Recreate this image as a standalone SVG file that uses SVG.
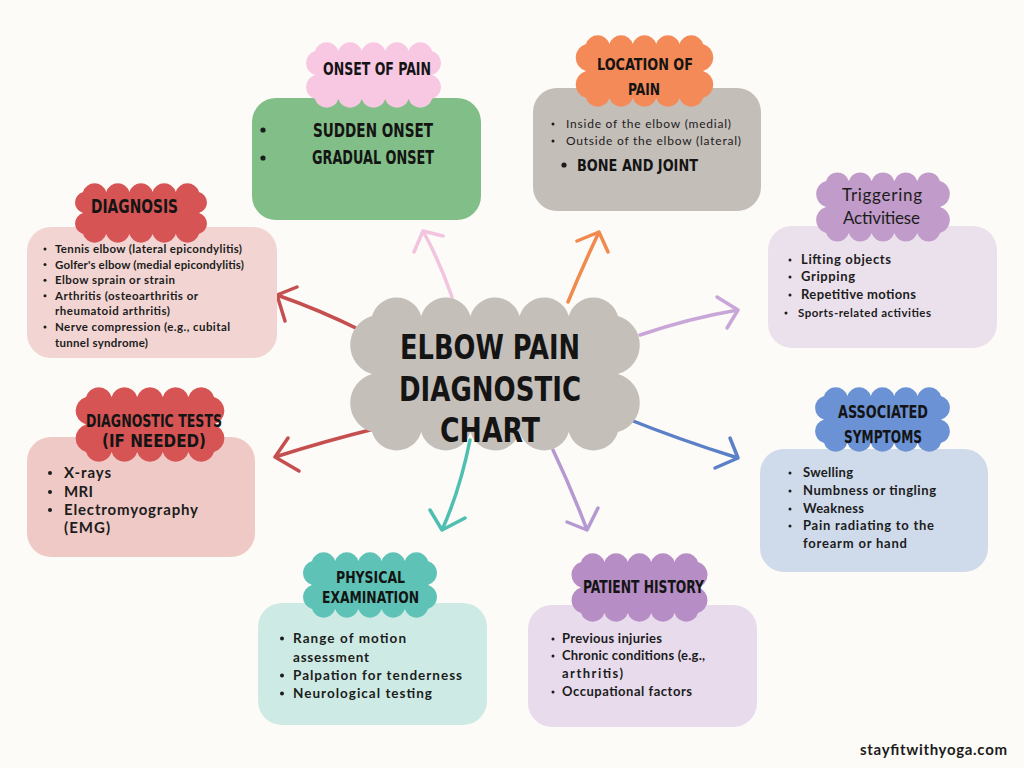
<svg xmlns="http://www.w3.org/2000/svg" width="1024" height="768" viewBox="0 0 1024 768">
<style>
.hd{font-family:"DejaVu Sans Condensed","DejaVu Sans",sans-serif;font-weight:bold;fill:#141414;text-anchor:middle}
.b{font-family:Lato,"Liberation Sans",sans-serif;font-weight:bold;fill:#1c1c1c}
.r{font-family:Lato,"Liberation Sans",sans-serif;font-weight:normal;fill:#1c1c1c}
.dot{fill:#1c1c1c}
.arr{fill:none;stroke-width:3.5;stroke-linecap:round;stroke-linejoin:round}
</style>
<rect width="1024" height="768" fill="#fdfbf7"/>
<g id="connectors">
<path class="arr" stroke="#f3c4df" d="M452,297 Q440,262 423,231 M414,252 L423,231 L443,236"/>
<path class="arr" stroke="#f08a4e" d="M568,302 Q582,268 599,232 M577,241 L599,232 L608,252"/>
<path class="arr" stroke="#c8a6d8" d="M640,335 Q690,318 738,310 M717,297 L738,310 L727,328"/>
<path class="arr" stroke="#c54f4f" d="M362,331 Q320,310 277,295 M297,287 L277,295 L285,321"/>
<path class="arr" stroke="#c54f4f" d="M378,428 Q325,441 275,457 M288,438 L275,457 L299,471"/>
<path class="arr" stroke="#5b80c8" d="M623,417 Q680,440 738,458 M730,438 L738,458 L715,468"/>
<path class="arr" stroke="#4fbfb1" d="M470,440 Q460,490 442,530 M430,510 L442,530 L465,518"/>
<path class="arr" stroke="#b59ad2" d="M553,450 Q572,490 587,530 M567,522 L587,530 L598,508"/>
</g>
<g id="center">
<path fill="#c5bfba" d="M372,316 a25.6,25.6 0 0 1 49.2,0 a25.6,25.6 0 0 1 49.2,0 a25.6,25.6 0 0 1 49.2,0 a25.6,25.6 0 0 1 49.2,0 a25.6,25.6 0 0 1 49.2,0 a30.2,30.2 0 0 1 0,58 a30.2,30.2 0 0 1 0,58 a25.6,25.6 0 0 1 -49.2,0 a25.6,25.6 0 0 1 -49.2,0 a25.6,25.6 0 0 1 -49.2,0 a25.6,25.6 0 0 1 -49.2,0 a25.6,25.6 0 0 1 -49.2,0 a30.2,30.2 0 0 1 0,-58 a30.2,30.2 0 0 1 0,-58 z"/>
<text class="hd" x="490" y="359" font-size="34" textLength="180" lengthAdjust="spacingAndGlyphs">ELBOW PAIN</text>
<text class="hd" x="490" y="401" font-size="34" textLength="182" lengthAdjust="spacingAndGlyphs">DIAGNOSTIC</text>
<text class="hd" x="490" y="442" font-size="34" textLength="100" lengthAdjust="spacingAndGlyphs">CHART</text>
</g>
<g id="onset">
<rect x="252" y="98" width="229" height="122" rx="24" fill="#82be87"/>
<path fill="#f8c8e2" d="M315,51 a12.2,12.2 0 0 1 23.4,0 a12.2,12.2 0 0 1 23.4,0 a12.2,12.2 0 0 1 23.4,0 a12.2,12.2 0 0 1 23.4,0 a12.2,12.2 0 0 1 23.4,0 a12.5,12.5 0 0 1 0,24 a12.5,12.5 0 0 1 0,24 a12.2,12.2 0 0 1 -23.4,0 a12.2,12.2 0 0 1 -23.4,0 a12.2,12.2 0 0 1 -23.4,0 a12.2,12.2 0 0 1 -23.4,0 a12.2,12.2 0 0 1 -23.4,0 a12.5,12.5 0 0 1 0,-24 a12.5,12.5 0 0 1 0,-24 z"/>
<text class="hd" x="377" y="75" font-size="18" textLength="108" lengthAdjust="spacingAndGlyphs">ONSET OF PAIN</text>
<circle class="dot" cx="263" cy="130" r="2.6"/>
<circle class="dot" cx="263" cy="158" r="2.6"/>
<text class="hd" x="373" y="137" font-size="19" textLength="120" lengthAdjust="spacingAndGlyphs">SUDDEN ONSET</text>
<text class="hd" x="373" y="164" font-size="19" textLength="122" lengthAdjust="spacingAndGlyphs">GRADUAL ONSET</text>
</g>
<g id="location">
<rect x="533" y="88" width="228" height="123" rx="24" fill="#c4beb9"/>
<path fill="#f48a57" d="M586,44 a12.2,12.2 0 0 1 23.4,0 a12.2,12.2 0 0 1 23.4,0 a12.2,12.2 0 0 1 23.4,0 a12.2,12.2 0 0 1 23.4,0 a12.2,12.2 0 0 1 23.4,0 a14,14 0 0 1 0,27 a14,14 0 0 1 0,27 a12.2,12.2 0 0 1 -23.4,0 a12.2,12.2 0 0 1 -23.4,0 a12.2,12.2 0 0 1 -23.4,0 a12.2,12.2 0 0 1 -23.4,0 a12.2,12.2 0 0 1 -23.4,0 a14,14 0 0 1 0,-27 a14,14 0 0 1 0,-27 z"/>
<text class="hd" x="645" y="70" font-size="16" textLength="96" lengthAdjust="spacingAndGlyphs">LOCATION OF</text>
<text class="hd" x="644" y="95" font-size="16" textLength="32" lengthAdjust="spacingAndGlyphs">PAIN</text>
<circle class="dot" cx="553" cy="124" r="1.5"/>
<circle class="dot" cx="553" cy="141" r="1.5"/>
<text class="r" x="566" y="128" font-size="12" textLength="165">Inside of the elbow (medial)</text>
<text class="r" x="566" y="145" font-size="12" textLength="175">Outside of the elbow (lateral)</text>
<circle class="dot" cx="564" cy="165" r="2.6"/>
<text class="hd" x="637.5" y="171" font-size="16" textLength="121" lengthAdjust="spacingAndGlyphs">BONE AND JOINT</text>
</g>
<g id="diagnosis">
<rect x="27" y="227" width="250" height="131" rx="24" fill="#f2d5d2"/>
<path fill="#d65454" d="M83,192 a12.1,12.1 0 0 1 23.2,0 a12.1,12.1 0 0 1 23.2,0 a12.1,12.1 0 0 1 23.2,0 a12.1,12.1 0 0 1 23.2,0 a12.1,12.1 0 0 1 23.2,0 a10.9,10.9 0 0 1 0,21 a10.9,10.9 0 0 1 0,21 a12.1,12.1 0 0 1 -23.2,0 a12.1,12.1 0 0 1 -23.2,0 a12.1,12.1 0 0 1 -23.2,0 a12.1,12.1 0 0 1 -23.2,0 a12.1,12.1 0 0 1 -23.2,0 a10.9,10.9 0 0 1 0,-21 a10.9,10.9 0 0 1 0,-21 z"/>
<text class="hd" x="134.5" y="213" font-size="20" textLength="87" lengthAdjust="spacingAndGlyphs">DIAGNOSIS</text>
<circle class="dot" cx="45" cy="249" r="1.5"/>
<circle class="dot" cx="45" cy="264.6" r="1.5"/>
<circle class="dot" cx="45" cy="280.2" r="1.5"/>
<circle class="dot" cx="45" cy="295.8" r="1.5"/>
<circle class="dot" cx="45" cy="327" r="1.5"/>
<text class="b" x="55" y="253" font-size="11.5" textLength="187">Tennis elbow (lateral epicondylitis)</text>
<text class="b" x="55" y="268.6" font-size="11.5" textLength="189">Golfer's elbow (medial epicondylitis)</text>
<text class="b" x="55" y="284.2" font-size="11.5" textLength="120">Elbow sprain or strain</text>
<text class="b" x="55" y="299.8" font-size="11.5" textLength="143">Arthritis (osteoarthritis or</text>
<text class="b" x="55" y="315.4" font-size="11.5" textLength="115">rheumatoid arthritis)</text>
<text class="b" x="55" y="331" font-size="11.5" textLength="175">Nerve compression (e.g., cubital</text>
<text class="b" x="55" y="346.6" font-size="11.5" textLength="93">tunnel syndrome)</text>
</g>
<g id="triggering">
<rect x="768" y="226" width="229" height="122" rx="24" fill="#ebe1ec"/>
<path fill="#c19bc9" d="M826,181 a11.9,11.9 0 0 1 22.8,0 a11.9,11.9 0 0 1 22.8,0 a11.9,11.9 0 0 1 22.8,0 a11.9,11.9 0 0 1 22.8,0 a11.9,11.9 0 0 1 22.8,0 a13.5,13.5 0 0 1 0,26 a13.5,13.5 0 0 1 0,26 a11.9,11.9 0 0 1 -22.8,0 a11.9,11.9 0 0 1 -22.8,0 a11.9,11.9 0 0 1 -22.8,0 a11.9,11.9 0 0 1 -22.8,0 a11.9,11.9 0 0 1 -22.8,0 a13.5,13.5 0 0 1 0,-26 a13.5,13.5 0 0 1 0,-26 z"/>
<text class="r" x="882" y="201" font-size="17" text-anchor="middle" textLength="80">Triggering</text>
<text class="r" x="881.5" y="224" font-size="17" text-anchor="middle" textLength="77">Activitiese</text>
<circle class="dot" cx="790" cy="260" r="1.5"/>
<circle class="dot" cx="790" cy="277" r="1.5"/>
<circle class="dot" cx="790" cy="295" r="1.5"/>
<circle class="dot" cx="786" cy="313" r="1.5"/>
<text class="b" x="801" y="264" font-size="13" textLength="90">Lifting objects</text>
<text class="b" x="801" y="281" font-size="13" textLength="54">Gripping</text>
<text class="b" x="801" y="299" font-size="13" textLength="115">Repetitive motions</text>
<text class="b" x="798" y="317" font-size="11.5" textLength="133">Sports-related activities</text>
</g>
<g id="tests">
<rect x="27" y="437" width="228" height="120" rx="24" fill="#efc9c5"/>
<path fill="#d65454" d="M86,397 a13.3,13.3 0 0 1 25.6,0 a13.3,13.3 0 0 1 25.6,0 a13.3,13.3 0 0 1 25.6,0 a13.3,13.3 0 0 1 25.6,0 a13.3,13.3 0 0 1 25.6,0 a14.3,14.3 0 0 1 0,27.5 a14.3,14.3 0 0 1 0,27.5 a13.3,13.3 0 0 1 -25.6,0 a13.3,13.3 0 0 1 -25.6,0 a13.3,13.3 0 0 1 -25.6,0 a13.3,13.3 0 0 1 -25.6,0 a13.3,13.3 0 0 1 -25.6,0 a14.3,14.3 0 0 1 0,-27.5 a14.3,14.3 0 0 1 0,-27.5 z"/>
<text class="hd" x="154" y="427" font-size="17" textLength="136" lengthAdjust="spacingAndGlyphs">DIAGNOSTIC TESTS</text>
<text class="hd" x="154" y="447" font-size="17" textLength="104" lengthAdjust="spacingAndGlyphs">(IF NEEDED)</text>
<circle class="dot" cx="50" cy="473" r="2"/>
<circle class="dot" cx="50" cy="492" r="2"/>
<circle class="dot" cx="50" cy="510" r="2"/>
<text class="b" x="64" y="478" font-size="15" textLength="47">X-rays</text>
<text class="b" x="64" y="497" font-size="15" textLength="29">MRI</text>
<text class="b" x="64" y="515" font-size="15" textLength="134">Electromyography</text>
<text class="b" x="64" y="533" font-size="15" textLength="46">(EMG)</text>
</g>
<g id="associated">
<rect x="760" y="449" width="228" height="123" rx="24" fill="#cfdbeb"/>
<path fill="#6a92d4" d="M824,396 a12.2,12.2 0 0 1 23.4,0 a12.2,12.2 0 0 1 23.4,0 a12.2,12.2 0 0 1 23.4,0 a12.2,12.2 0 0 1 23.4,0 a12.2,12.2 0 0 1 23.4,0 a12.2,12.2 0 0 1 0,23.5 a12.2,12.2 0 0 1 0,23.5 a12.2,12.2 0 0 1 -23.4,0 a12.2,12.2 0 0 1 -23.4,0 a12.2,12.2 0 0 1 -23.4,0 a12.2,12.2 0 0 1 -23.4,0 a12.2,12.2 0 0 1 -23.4,0 a12.2,12.2 0 0 1 0,-23.5 a12.2,12.2 0 0 1 0,-23.5 z"/>
<text class="hd" x="883" y="418" font-size="17" textLength="90" lengthAdjust="spacingAndGlyphs">ASSOCIATED</text>
<text class="hd" x="883" y="443" font-size="17" textLength="78" lengthAdjust="spacingAndGlyphs">SYMPTOMS</text>
<circle class="dot" cx="790" cy="473" r="1.5"/>
<circle class="dot" cx="790" cy="491" r="1.5"/>
<circle class="dot" cx="790" cy="509" r="1.5"/>
<circle class="dot" cx="790" cy="526" r="1.5"/>
<text class="b" x="803" y="477" font-size="13" textLength="50">Swelling</text>
<text class="b" x="803" y="495" font-size="13" textLength="133">Numbness or tingling</text>
<text class="b" x="803" y="513" font-size="13" textLength="61">Weakness</text>
<text class="b" x="803" y="530" font-size="13" textLength="131">Pain radiating to the</text>
<text class="b" x="803" y="548" font-size="13" textLength="104">forearm or hand</text>
</g>
<g id="physical">
<rect x="258" y="603" width="229" height="122" rx="24" fill="#cdebe4"/>
<path fill="#5ec3b6" d="M312,561 a12.1,12.1 0 0 1 23.2,0 a12.1,12.1 0 0 1 23.2,0 a12.1,12.1 0 0 1 23.2,0 a12.1,12.1 0 0 1 23.2,0 a12.1,12.1 0 0 1 23.2,0 a12.5,12.5 0 0 1 0,24 a12.5,12.5 0 0 1 0,24 a12.1,12.1 0 0 1 -23.2,0 a12.1,12.1 0 0 1 -23.2,0 a12.1,12.1 0 0 1 -23.2,0 a12.1,12.1 0 0 1 -23.2,0 a12.1,12.1 0 0 1 -23.2,0 a12.5,12.5 0 0 1 0,-24 a12.5,12.5 0 0 1 0,-24 z"/>
<text class="hd" x="370.5" y="583" font-size="16" textLength="69" lengthAdjust="spacingAndGlyphs">PHYSICAL</text>
<text class="hd" x="370.5" y="603" font-size="16" textLength="97" lengthAdjust="spacingAndGlyphs">EXAMINATION</text>
<circle class="dot" cx="282" cy="638.5" r="2"/>
<circle class="dot" cx="282" cy="675.5" r="2"/>
<circle class="dot" cx="282" cy="693.5" r="2"/>
<text class="b" x="293" y="643" font-size="13.5" textLength="113">Range of motion</text>
<text class="b" x="293" y="662" font-size="13.5" textLength="76">assessment</text>
<text class="b" x="293" y="680" font-size="13.5" textLength="169">Palpation for tenderness</text>
<text class="b" x="293" y="698" font-size="13.5" textLength="139">Neurological testing</text>
</g>
<g id="history">
<rect x="528" y="605" width="229" height="122" rx="24" fill="#e7dbec"/>
<path fill="#b68ec5" d="M581,562 a12.2,12.2 0 0 1 23.4,0 a12.2,12.2 0 0 1 23.4,0 a12.2,12.2 0 0 1 23.4,0 a12.2,12.2 0 0 1 23.4,0 a12.2,12.2 0 0 1 23.4,0 a13.3,13.3 0 0 1 0,25.5 a13.3,13.3 0 0 1 0,25.5 a12.2,12.2 0 0 1 -23.4,0 a12.2,12.2 0 0 1 -23.4,0 a12.2,12.2 0 0 1 -23.4,0 a12.2,12.2 0 0 1 -23.4,0 a12.2,12.2 0 0 1 -23.4,0 a13.3,13.3 0 0 1 0,-25.5 a13.3,13.3 0 0 1 0,-25.5 z"/>
<text class="hd" x="643.5" y="593" font-size="17" textLength="121" lengthAdjust="spacingAndGlyphs">PATIENT HISTORY</text>
<circle class="dot" cx="553" cy="639" r="1.5"/>
<circle class="dot" cx="553" cy="656" r="1.5"/>
<circle class="dot" cx="553" cy="692" r="1.5"/>
<text class="b" x="562" y="643" font-size="13" textLength="100">Previous injuries</text>
<text class="b" x="562" y="660" font-size="13" textLength="143">Chronic conditions (e.g.,</text>
<text class="b" x="562" y="678" font-size="13" textLength="61">arthritis)</text>
<text class="b" x="562" y="696" font-size="13" textLength="130">Occupational factors</text>
</g>
<text class="b" x="860" y="755" font-size="15" textLength="147">stayfitwithyoga.com</text>
</svg>
